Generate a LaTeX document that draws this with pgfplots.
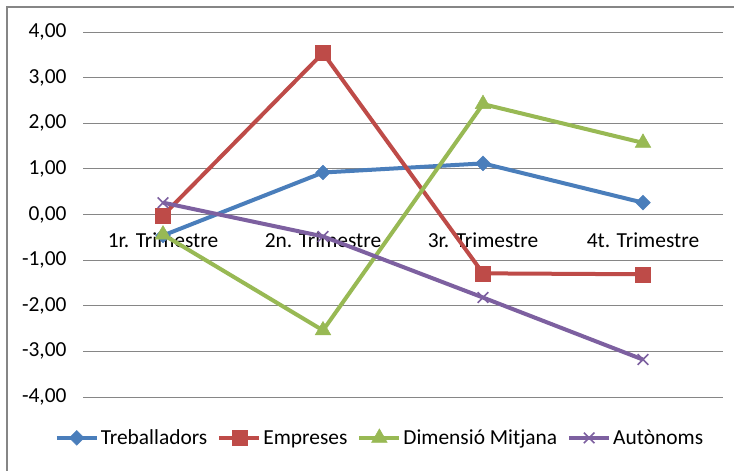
\documentclass[border=0pt]{standalone}
\usepackage{fontspec}
\setmainfont{Carlito}
\usepackage{pgfplots}
\pgfplotsset{compat=1.18}
\definecolor{cblue}{RGB}{74,126,187}
\definecolor{cred}{RGB}{190,75,72}
\definecolor{cgreen}{RGB}{152,185,84}
\definecolor{cpurple}{RGB}{125,96,160}
\definecolor{gridgray}{RGB}{134,134,134}
\newcommand{\lblfont}{\fontsize{21.5}{26}\selectfont}
\begin{document}
\begin{tikzpicture}
\useasboundingbox (0,0) rectangle (734bp,471bp);
\fill[white] (0,0) rectangle (734bp,471bp);
\draw[color=gridgray, line width=1.7bp] (7bp,0) -- (7bp,464bp) -- (734bp,464bp);
\begin{axis}[
  at={(83bp,74bp)}, anchor=south west,
  scale only axis, width=640bp, height=365bp,
  xmin=-0.5, xmax=3.5, ymin=-4, ymax=4,
  axis x line=middle, axis y line=left,
  x axis line style={draw=none}, y axis line style={draw=none},
  hide obscured x ticks=false, hide obscured y ticks=false,
  xtick={0,1,2,3},
  xticklabels={1r. Trimestre, 2n. Trimestre, 3r. Trimestre, 4t. Trimestre},
  ytick={-4,-3,-2,-1,0,1,2,3,4},
  yticklabels={{-4,00},{-3,00},{-2,00},{-1,00},{0,00},{1,00},{2,00},{3,00},{4,00}},
  ymajorgrids,
  major grid style={color=gridgray, line width=1bp},
  major tick length=0pt,
  tick label style={font=\lblfont},
  yticklabel style={xshift=-13bp},
  xticklabel style={yshift=-15bp},
  clip=false,
  legend style={at={(0.464,-0.112)}, anchor=center, draw=none, fill=none,
    legend columns=4, font=\lblfont,
    /tikz/every even column/.append style={column sep=8bp}},
  legend cell align=left,
  legend image code/.code={\draw[mark repeat=2,mark phase=2] plot coordinates {(0bp,0bp) (20bp,0bp) (40bp,0bp)};},
  every axis plot/.append style={line width=4bp},
]
\addplot[color=cblue, mark=square*, mark size=5.2bp, mark options={rotate=45, line width=0.5bp, fill=cblue}]
  coordinates {(0,-0.46) (1,0.92) (2,1.12) (3,0.26)};
\addlegendentry{Treballadors}
\addplot[color=cred, mark=square*, mark size=7.5bp, mark options={line width=0.5bp, fill=cred}]
  coordinates {(0,-0.02) (1,3.54) (2,-1.29) (3,-1.31)};
\addlegendentry{Empreses}
\addplot[color=cgreen, mark=triangle*, mark size=9bp, mark options={line width=0.5bp, fill=cgreen}]
  coordinates {(0,-0.44) (1,-2.54) (2,2.42) (3,1.57)};
\addlegendentry{Dimensió Mitjana}
\addplot[color=cpurple, mark=x, mark size=7.5bp, mark options={line width=1.6bp}]
  coordinates {(0,0.26) (1,-0.48) (2,-1.82) (3,-3.18)};
\addlegendentry{Autònoms}
\end{axis}
\end{tikzpicture}
\end{document}
